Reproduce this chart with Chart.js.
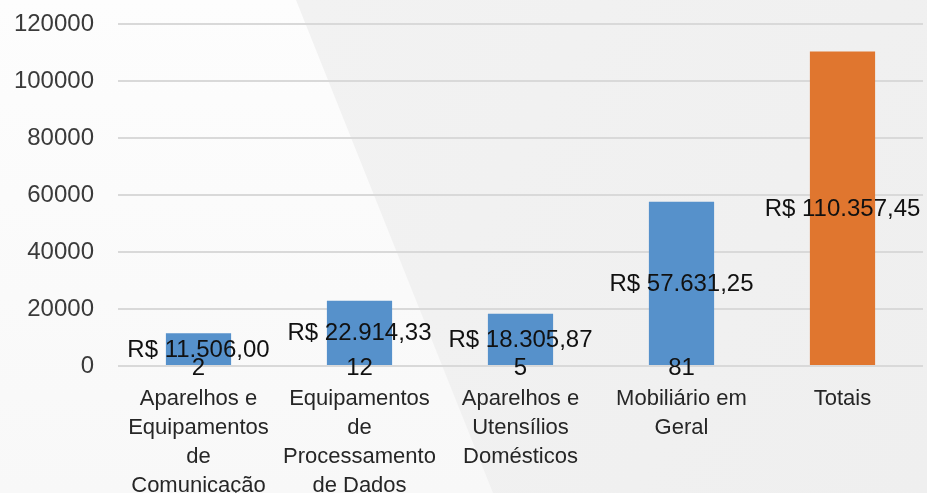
<!DOCTYPE html>
<html>
<head>
<meta charset="utf-8">
<script src="https://cdn.jsdelivr.net/npm/chart.js@4"></script>
<style>
  html, body { margin: 0; padding: 0; background: #f1f1f1; }
  #c { display: block; }
</style>
</head>
<body>
<canvas id="c" width="927" height="493"></canvas>
<script>
const categories = [
  ["Aparelhos e", "Equipamentos", "de", "Comunicação"],
  ["Equipamentos", "de", "Processamento", "de Dados"],
  ["Aparelhos e", "Utensílios", "Domésticos"],
  ["Mobiliário em", "Geral"],
  ["Totais"]
];
const values = [11506.00, 22914.33, 18305.87, 57631.25, 110357.45];
const counts = [2, 12, 5, 81, null];
const barColors = ["#5691cb", "#5691cb", "#5691cb", "#5691cb", "#e0762f"];
const yMax = 120000;
const yStep = 20000;

function brl(v) {
  const parts = v.toFixed(2).split(".");
  const intPart = parts[0].replace(/\B(?=(\d{3})+(?!\d))/g, ".");
  return "R$ " + intPart + "," + parts[1];
}

const bgPlugin = {
  id: "bg",
  beforeDraw(chart) {
    const ctx = chart.ctx;
    const w = chart.width, h = chart.height;
    ctx.save();
    const g1 = ctx.createLinearGradient(0, 0, w, h);
    g1.addColorStop(0, "#f3f3f3");
    g1.addColorStop(1, "#efefef");
    ctx.fillStyle = g1;
    ctx.fillRect(0, 0, w, h);
    const g2 = ctx.createLinearGradient(0, 0, 0, h);
    g2.addColorStop(0, "#fdfdfd");
    g2.addColorStop(1, "#f8f8f8");
    ctx.fillStyle = g2;
    ctx.beginPath();
    ctx.moveTo(0, 0);
    ctx.lineTo(296, 0);
    ctx.lineTo(493, h);
    ctx.lineTo(0, h);
    ctx.closePath();
    ctx.fill();
    ctx.restore();
  }
};

const labelPlugin = {
  id: "barLabels",
  afterDatasetsDraw(chart) {
    const ctx = chart.ctx;
    const meta = chart.getDatasetMeta(0);
    const yScale = chart.scales.y;
    const y0 = yScale.getPixelForValue(0);
    ctx.save();
    ctx.font = "24px 'Liberation Sans'";
    ctx.fillStyle = "#111111";
    ctx.textAlign = "center";
    ctx.textBaseline = "middle";
    meta.data.forEach((bar, i) => {
      const cy = (bar.y + bar.base) / 2;
      ctx.fillText(brl(values[i]), bar.x, cy + 1);
      if (counts[i] !== null) {
        ctx.fillText(String(counts[i]), bar.x, y0 + 2);
      }
    });
    ctx.restore();
  }
};

new Chart(document.getElementById("c"), {
  type: "bar",
  data: {
    labels: categories,
    datasets: [{
      data: values,
      backgroundColor: barColors,
      borderWidth: 0,
      categoryPercentage: 1.0,
      barPercentage: 0.405
    }]
  },
  options: {
    responsive: false,
    animation: false,
    layout: { padding: { top: 24, right: 4, left: 0, bottom: 0 } },
    plugins: { legend: { display: false }, tooltip: { enabled: false } },
    scales: {
      x: {
        grid: { display: false, drawTicks: false },
        border: { display: false },
        ticks: {
          maxRotation: 0,
          minRotation: 0,
          autoSkip: false,
          padding: 18,
          color: "#262626",
          font: { family: "'Liberation Sans'", size: 22, lineHeight: 1.32 }
        },
        afterFit(scale) { scale.height = 127; }
      },
      y: {
        min: 0,
        max: yMax,
        grid: { color: "#d9d9d9", lineWidth: 2, drawTicks: false },
        border: { display: false },
        ticks: {
          stepSize: yStep,
          padding: 24,
          color: "#3a3a3a",
          font: { family: "'Liberation Sans'", size: 24 },
          callback: (v) => String(v)
        },
        afterFit(scale) {
          scale.width = 118;
          scale.paddingTop = 0;
          scale.paddingBottom = 0;
        }
      }
    }
  },
  plugins: [bgPlugin, labelPlugin]
});
</script>
</body>
</html>
